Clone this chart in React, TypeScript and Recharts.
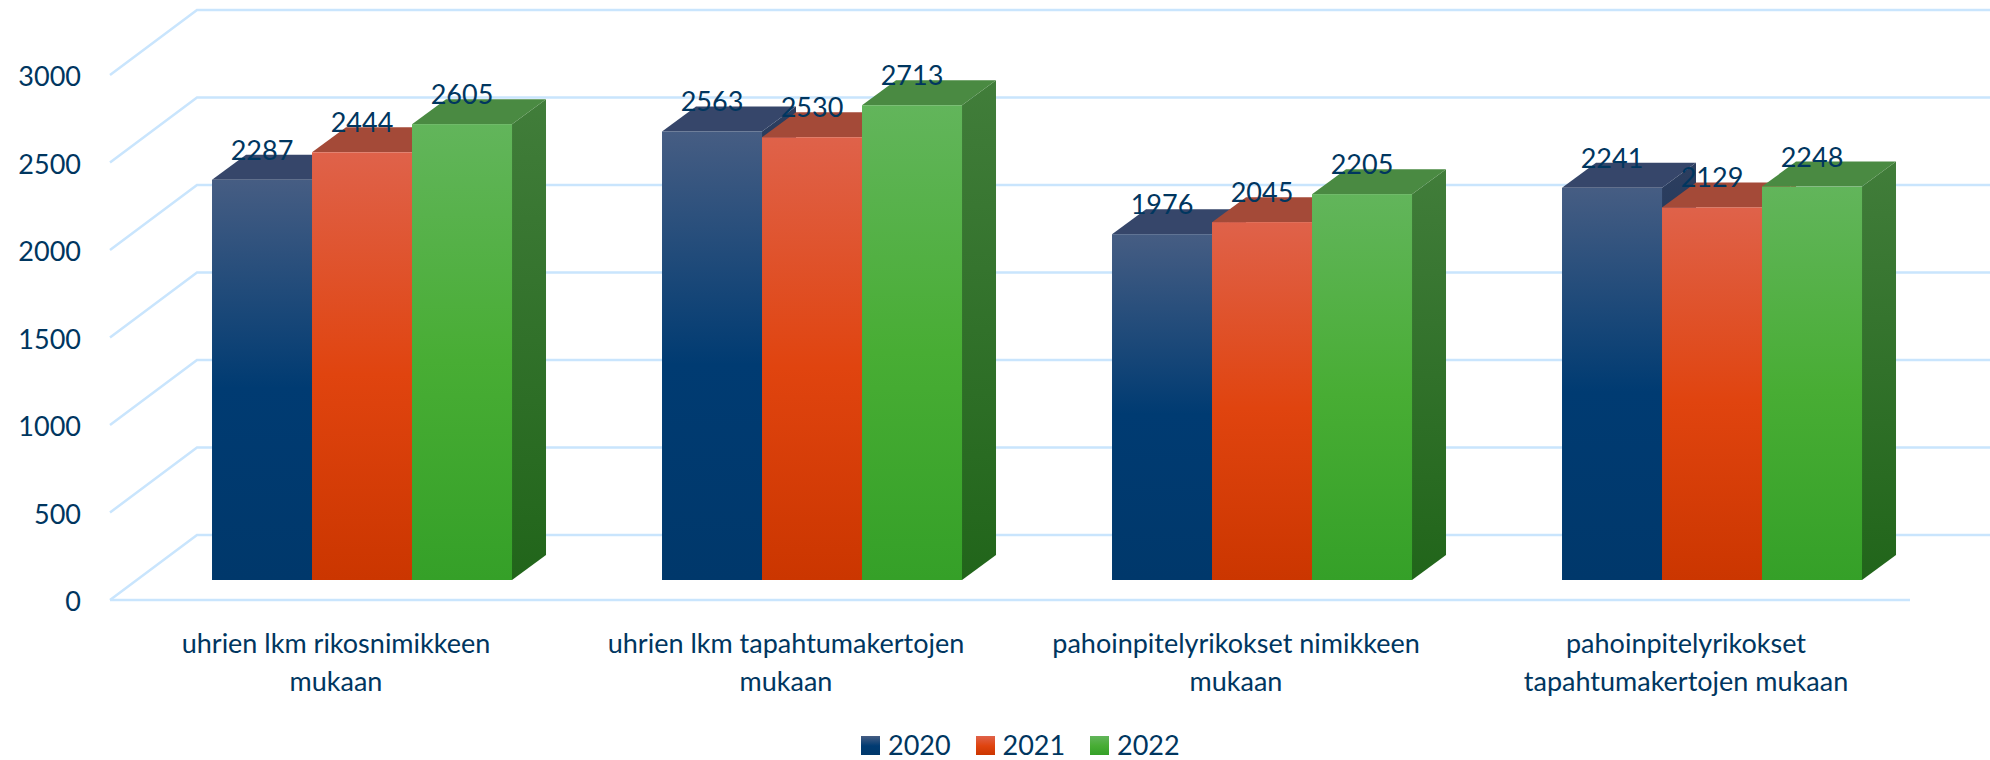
import React from "react";
import { BarChart, Bar, XAxis, YAxis, CartesianGrid, Legend, LabelList } from "recharts";

const categories = [
  "uhrien lkm rikosnimikkeen\nmukaan",
  "uhrien lkm tapahtumakertojen\nmukaan",
  "pahoinpitelyrikokset nimikkeen\nmukaan",
  "pahoinpitelyrikokset\ntapahtumakertojen mukaan",
];
const values2020 = [2287, 2563, 1976, 2241];
const values2021 = [2444, 2530, 2045, 2129];
const values2022 = [2605, 2713, 2205, 2248];
const yTicks = [0, 500, 1000, 1500, 2000, 2500, 3000];

const data = categories.map((name, i) => ({
  name,
  y2020: values2020[i],
  y2021: values2021[i],
  y2022: values2022[i],
}));

const TEXT = "#00365f";
const GRID = "#c9e5fd";
const FONT = "Lato, 'Open Sans', sans-serif";
const FS = 27;

const BAR_DX = 34;
const BAR_DY = 25;
const FRONT_DX = -27;
const FRONT_DY = 20;
const BACK_DX = 60;
const BACK_DY = -45;

const palette = {
  y2020: { id: "b", top: "#36466a", stops: ["#465d83", "#003b72", "#00386b"], side: ["#2d3e5f", "#002a52"] },
  y2021: { id: "r", top: "#a44a38", stops: ["#df624a", "#e0440f", "#cb3600"], side: ["#a34632", "#9a2a00"] },
  y2022: { id: "g", top: "#4a8a42", stops: ["#62b55b", "#48ad34", "#35a028"], side: ["#417d3a", "#21651a"] },
};

function Gradients() {
  return (
    <defs>
      {Object.values(palette).map((p) => (
        <React.Fragment key={p.id}>
          <linearGradient id={`front-${p.id}`} x1="0" y1="0" x2="0" y2="1">
            <stop offset="0%" stopColor={p.stops[0]} />
            <stop offset="52%" stopColor={p.stops[1]} />
            <stop offset="100%" stopColor={p.stops[2]} />
          </linearGradient>
          <linearGradient id={`side-${p.id}`} x1="0" y1="0" x2="0" y2="1">
            <stop offset="0%" stopColor={p.side[0]} />
            <stop offset="100%" stopColor={p.side[1]} />
          </linearGradient>
        </React.Fragment>
      ))}
    </defs>
  );
}

function makePrism(key: keyof typeof palette) {
  const p = palette[key];
  return function Prism(props: any) {
    const { x, y, width: w, height: h } = props;
    return (
      <g>
        <polygon
          points={`${x + w},${y} ${x + w + BAR_DX},${y - BAR_DY} ${x + w + BAR_DX},${y + h - BAR_DY} ${x + w},${y + h}`}
          fill={`url(#side-${p.id})`}
        />
        <polygon
          points={`${x},${y} ${x + BAR_DX},${y - BAR_DY} ${x + w + BAR_DX},${y - BAR_DY} ${x + w},${y}`}
          fill={p.top}
        />
        <rect x={x} y={y} width={w} height={h} fill={`url(#front-${p.id})`} />
      </g>
    );
  };
}

function gridLine(props: any) {
  const { x1, x2, y1 } = props;
  const fy = y1 + FRONT_DY;
  const by = y1 + BACK_DY;
  const fx = x1 + FRONT_DX;
  const bx = x1 + BACK_DX;
  return (
    <g key={`g-${y1}`}>
      <path d={`M${fx},${fy} L${bx},${by} L${x2 + BACK_DX},${by}`} fill="none" stroke={GRID} strokeWidth={2.5} />
      {Math.abs(y1 - 580) < 1 && (
        <path d={`M${fx},${fy} L${x2 + FRONT_DX},${fy}`} fill="none" stroke={GRID} strokeWidth={2.5} />
      )}
    </g>
  );
}

function YTick(props: any) {
  const { x, y, payload } = props;
  return (
    <text x={x} y={y + FRONT_DY + 11} textAnchor="end" fontSize={FS} fontFamily={FONT} fill={TEXT}>
      {payload.value}
    </text>
  );
}

function XTick(props: any) {
  const { x, y, payload } = props;
  const lines = String(payload.value).split("\n");
  return (
    <text textAnchor="middle" fontSize={FS} fontFamily={FONT} fill={TEXT}>
      {lines.map((l, i) => (
        <tspan key={i} x={x - 26} y={y + 71 + i * 38}>
          {l}
        </tspan>
      ))}
    </text>
  );
}

function BarLabel(props: any) {
  const { x, y, width, value } = props;
  return (
    <text x={x + width / 2} y={y - 20} textAnchor="middle" fontSize={FS} fontFamily={FONT} fill={TEXT}>
      {value}
    </text>
  );
}

function LegendBox(props: any) {
  const { payload = [] } = props;
  return (
    <div style={{ display: "flex", justifyContent: "flex-start", marginLeft: 861, height: 30, alignItems: "center" }}>
      {payload.map((e: any) => (
        <div key={e.value} style={{ display: "flex", alignItems: "center", width: 114.5 }}>
          <svg width={19} height={19} style={{ display: "block", marginRight: 8 }}>
            <rect width={19} height={19} fill={e.color} />
          </svg>
          <span style={{ fontFamily: FONT, fontSize: FS, color: TEXT, lineHeight: "30px" }}>{e.value}</span>
        </div>
      ))}
    </div>
  );
}

export default function App() {
  const series: (keyof typeof palette)[] = ["y2020", "y2021", "y2022"];
  const names = { y2020: "2020", y2021: "2021", y2022: "2022" };
  return (
    <div style={{ position: "absolute", left: 0, top: 0, width: 1990, height: 760, overflow: "hidden", background: "#fff" }}>
      <BarChart
        width={1990}
        height={760}
        data={data}
        margin={{ top: 55, right: 53, bottom: 0, left: 0 }}
        barCategoryGap="16.67%"
        barGap={0}
      >
        <Gradients />
        <CartesianGrid vertical={false} horizontal={gridLine as any} />
        <XAxis dataKey="name" axisLine={false} tickLine={false} tickSize={0} tick={XTick as any} height={150} interval={0} />
        <YAxis
          domain={[0, 3000]}
          ticks={yTicks}
          axisLine={false}
          tickLine={false}
          tickSize={0}
          tickMargin={56}
          width={137}
          tick={YTick as any}
        />
        <Legend verticalAlign="bottom" content={LegendBox as any} wrapperStyle={{ left: 0, width: 1990, height: 30 }} />
        {series.map((k) => (
          <Bar
            key={k}
            dataKey={k}
            name={names[k]}
            fill={`url(#front-${palette[k].id})`}
            shape={makePrism(k) as any}
            isAnimationActive={false}
          >
            <LabelList dataKey={k} content={BarLabel as any} />
          </Bar>
        ))}
      </BarChart>
    </div>
  );
}
